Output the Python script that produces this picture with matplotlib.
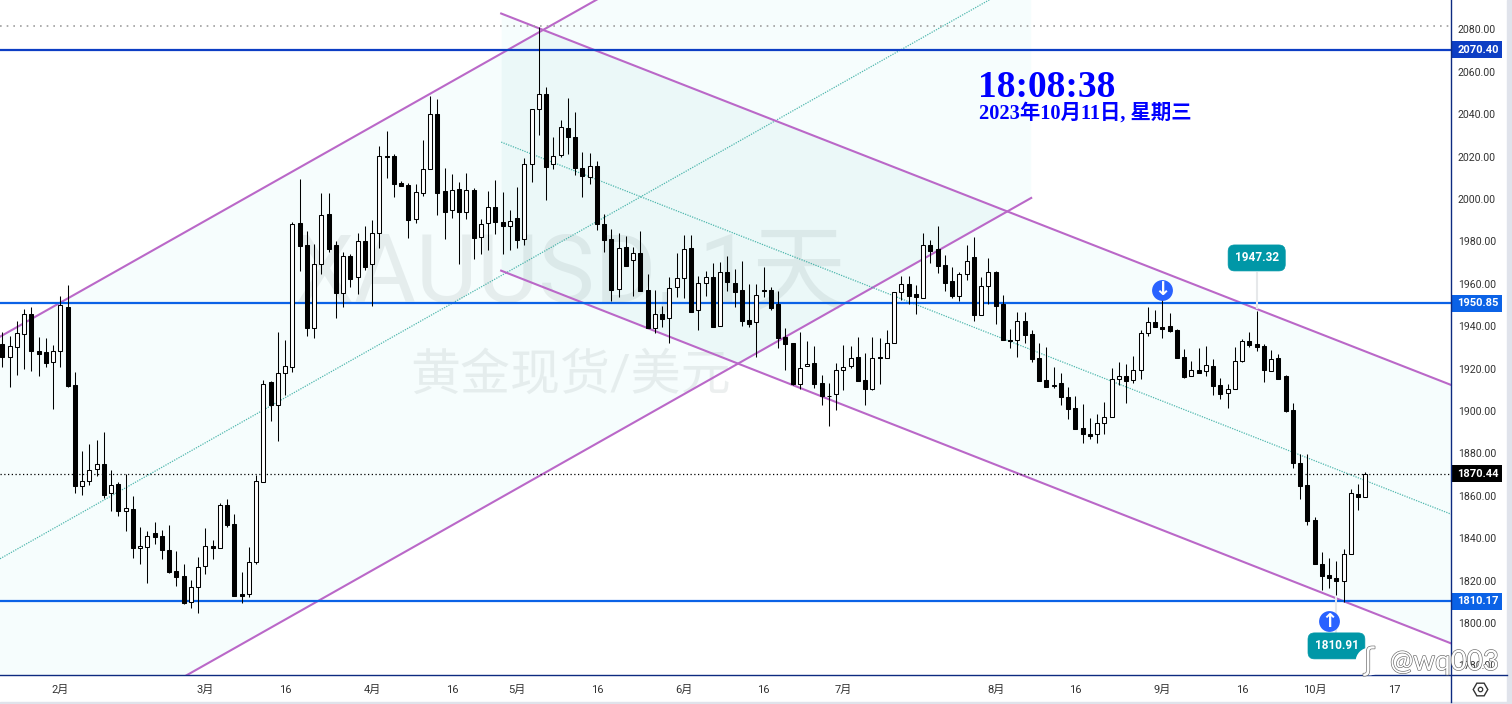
import matplotlib
matplotlib.use("Agg")
import numpy as np
import matplotlib.pyplot as plt
import matplotlib.patheffects as pe
from matplotlib.lines import Line2D
from matplotlib.patches import Rectangle

plt.rcParams['font.family'] = ['Roboto', 'Noto Sans CJK SC', 'DejaVu Sans']

# daily candles
opens = [1931.6, 1925.6, 1930.0, 1936.2, 1945.6, 1928.1, 1927.7, 1923.0, 1928.1, 1948.9,
         1912.1, 1864.8, 1866.8, 1872.5, 1874.9, 1861.2, 1865.4, 1852.7, 1853.6, 1835.2,
         1835.7, 1842.3, 1840.9, 1834.3, 1824.4, 1822.0, 1809.8, 1816.8, 1826.7, 1836.2,
         1835.2, 1855.5, 1846.6, 1813.5, 1813.5, 1829.0, 1866.7, 1913.5, 1903.0, 1917.8,
         1920.6, 1988.5, 1978.1, 1939.3, 1969.2, 1992.8, 1978.1, 1955.5, 1972.9, 1963.0,
         1980.0, 1969.2, 1983.8, 2020.1, 2020.1, 2007.4, 2006.4, 1990.4, 2002.7, 2014.0,
         2039.9, 2003.6, 1994.6, 2004.5, 1993.7, 2004.1, 1981.9, 1988.5, 1996.0, 1989.0,
         1987.4, 1990.9, 1981.3, 2016.3, 2042.3, 2049.3, 2016.3, 2020.6, 2033.3, 2029.1,
         2014.4, 2010.2, 2015.4, 1988.0, 1980.9, 1957.4, 1977.2, 1971.0, 1974.4, 1956.9,
         1939.3, 1945.6, 1943.7, 1958.3, 1962.6, 1976.7, 1947.5, 1960.5, 1963.0, 1939.9,
         1965.4, 1960.2, 1956.9, 1942.8, 1941.8, 1956.9, 1956.9, 1950.3, 1934.9, 1931.9,
         1912.9, 1921.1, 1922.5, 1913.0, 1907.3, 1907.9, 1919.2, 1921.1, 1925.3, 1914.5,
         1910.5, 1925.3, 1924.8, 1931.9, 1956.0, 1959.7, 1955.0, 1953.1, 1978.1, 1976.3,
         1968.7, 1961.2, 1954.4, 1964.5, 1972.5, 1945.4, 1958.8, 1965.4, 1950.5, 1933.3,
         1933.3, 1942.3, 1936.2, 1924.9, 1914.5, 1911.7, 1913.0, 1906.5, 1901.3, 1891.8,
         1889.0, 1889.0, 1894.2, 1897.0, 1915.0, 1916.4, 1914.5, 1919.2, 1936.6, 1941.8,
         1939.5, 1940.0, 1938.0, 1925.3, 1916.4, 1919.2, 1918.7, 1921.1, 1912.1, 1908.4,
         1910.2, 1923.4, 1932.9, 1931.5, 1930.5, 1918.7, 1924.9, 1916.4, 1900.4, 1875.4,
         1865.0, 1848.5, 1827.7, 1822.5, 1821.1, 1820.0, 1832.5, 1860.8, 1859.3]
closes = [1925.6, 1930.5, 1936.6, 1945.6, 1928.5, 1927.0, 1922.8, 1928.1, 1950.0, 1911.9,
          1864.8, 1866.8, 1872.0, 1874.9, 1860.5, 1865.0, 1853.0, 1854.1, 1835.6, 1836.2,
          1841.2, 1840.7, 1834.6, 1824.2, 1821.9, 1809.6, 1816.8, 1826.6, 1836.2, 1835.2,
          1855.5, 1846.4, 1812.9, 1812.9, 1829.0, 1866.8, 1912.7, 1903.0, 1917.9, 1921.1,
          1988.0, 1978.0, 1939.3, 1969.2, 1992.3, 1976.6, 1955.8, 1972.9, 1962.4, 1980.0,
          1968.0, 1983.8, 2020.1, 2019.8, 2007.2, 2006.3, 1990.2, 2003.1, 2014.0, 2039.9,
          2003.0, 1994.0, 2004.4, 1994.0, 2004.1, 1981.7, 1988.3, 1996.4, 1989.3, 1987.4,
          1989.4, 1980.8, 2016.3, 2042.3, 2049.3, 2015.2, 2020.1, 2033.8, 2029.1, 2014.4,
          2010.7, 2015.4, 1988.0, 1980.8, 1957.2, 1976.7, 1968.5, 1974.4, 1956.8, 1939.3,
          1945.6, 1943.5, 1957.9, 1962.6, 1976.2, 1946.9, 1960.5, 1963.0, 1939.8, 1965.4,
          1960.7, 1956.3, 1942.6, 1941.2, 1954.6, 1956.8, 1948.7, 1934.6, 1931.8, 1912.6,
          1920.1, 1922.0, 1912.9, 1907.2, 1907.2, 1919.2, 1920.6, 1924.8, 1914.3, 1910.5,
          1924.8, 1924.8, 1931.9, 1956.0, 1959.7, 1954.4, 1953.9, 1978.1, 1975.6, 1968.5,
          1960.5, 1954.4, 1964.5, 1970.9, 1945.4, 1958.8, 1965.4, 1949.7, 1933.3, 1933.2,
          1942.3, 1936.0, 1924.4, 1914.3, 1911.5, 1912.4, 1906.8, 1901.1, 1891.7, 1889.3,
          1888.4, 1894.2, 1897.0, 1915.0, 1916.4, 1914.3, 1919.2, 1936.6, 1941.8, 1939.5,
          1938.8, 1937.9, 1925.2, 1915.9, 1919.2, 1917.8, 1921.6, 1911.7, 1908.2, 1910.2,
          1923.4, 1932.9, 1931.0, 1930.4, 1919.2, 1924.4, 1915.3, 1900.2, 1875.4, 1864.4,
          1847.9, 1827.6, 1822.4, 1821.1, 1820.0, 1832.5, 1861.2, 1859.3, 1870.4]
highs = [1937.1, 1935.4, 1942.4, 1948.0, 1948.9, 1934.7, 1934.3, 1931.0, 1954.1, 1959.3,
         1918.2, 1881.0, 1884.3, 1886.2, 1889.9, 1872.0, 1866.4, 1870.1, 1859.8, 1845.1,
         1843.3, 1847.5, 1843.7, 1846.1, 1833.8, 1827.7, 1820.1, 1831.0, 1844.7, 1839.0,
         1856.5, 1858.3, 1851.3, 1823.9, 1835.7, 1870.0, 1914.6, 1914.1, 1937.1, 1933.3,
         1989.0, 2009.4, 1984.7, 1978.8, 2002.8, 2002.8, 1980.0, 1974.8, 1973.9, 1983.8,
         1987.1, 1989.9, 2024.8, 2031.9, 2021.0, 2008.3, 2007.4, 2006.9, 2027.6, 2048.4,
         2047.0, 2014.4, 2011.6, 2007.8, 2012.1, 2005.0, 1990.4, 2003.6, 2008.8, 2003.1,
         1994.6, 2005.5, 2019.2, 2042.3, 2080.9, 2052.6, 2029.1, 2037.1, 2047.5, 2040.9,
         2022.0, 2021.5, 2017.8, 1992.8, 1985.7, 1983.8, 1982.4, 1977.2, 1984.7, 1964.4,
         1956.9, 1949.4, 1963.0, 1974.4, 1982.8, 1982.8, 1963.5, 1965.9, 1969.6, 1970.1,
         1972.9, 1966.8, 1970.6, 1959.7, 1959.7, 1967.8, 1958.3, 1956.4, 1939.2, 1932.1,
         1937.1, 1933.0, 1930.5, 1916.8, 1913.0, 1922.5, 1931.0, 1930.5, 1934.9, 1927.2,
         1934.8, 1934.4, 1938.0, 1956.0, 1963.8, 1963.5, 1959.3, 1983.8, 1980.5, 1987.1,
         1973.4, 1967.8, 1965.4, 1978.1, 1981.9, 1963.0, 1972.0, 1965.9, 1954.6, 1938.5,
         1946.5, 1946.6, 1938.1, 1931.9, 1930.0, 1920.6, 1917.8, 1911.2, 1906.9, 1903.2,
         1896.6, 1898.5, 1904.1, 1920.1, 1923.0, 1922.0, 1925.8, 1938.1, 1948.9, 1947.5,
         1952.7, 1946.1, 1938.5, 1929.1, 1923.4, 1929.6, 1930.5, 1924.4, 1915.4, 1912.6,
         1930.0, 1933.8, 1937.1, 1947.3, 1931.5, 1928.6, 1926.8, 1916.9, 1903.7, 1879.6,
         1879.6, 1849.9, 1833.4, 1830.6, 1829.2, 1834.8, 1863.1, 1865.5, 1871.1]
lows = [1920.9, 1911.5, 1917.1, 1920.0, 1919.0, 1916.7, 1920.9, 1901.1, 1920.9, 1911.5,
        1861.5, 1860.5, 1865.3, 1869.5, 1859.1, 1853.0, 1850.6, 1843.6, 1830.8, 1828.0,
        1819.0, 1837.4, 1830.4, 1823.8, 1817.6, 1809.1, 1807.3, 1804.9, 1823.3, 1830.4,
        1835.2, 1845.5, 1812.9, 1809.6, 1812.4, 1828.0, 1866.7, 1895.4, 1886.0, 1907.5,
        1918.5, 1966.2, 1935.5, 1934.6, 1964.8, 1975.1, 1944.0, 1949.2, 1958.6, 1955.3,
        1966.6, 1949.7, 1977.0, 2010.0, 2001.1, 2006.3, 1981.7, 1988.8, 2001.6, 2014.0,
        1992.6, 1981.3, 1991.2, 1969.5, 1990.7, 1971.8, 1974.2, 1976.1, 1983.6, 1974.2,
        1976.1, 1977.0, 1978.4, 2007.8, 2030.2, 1999.7, 2014.3, 2019.6, 2021.4, 2011.1,
        2001.1, 2007.2, 1985.5, 1975.1, 1952.0, 1953.9, 1968.5, 1954.4, 1956.8, 1939.0,
        1936.9, 1939.8, 1932.2, 1953.9, 1953.5, 1946.9, 1938.4, 1954.4, 1939.8, 1939.9,
        1956.8, 1949.2, 1940.2, 1939.8, 1925.3, 1953.6, 1947.8, 1929.9, 1919.5, 1912.1,
        1910.5, 1921.1, 1911.0, 1903.0, 1893.1, 1900.6, 1910.0, 1920.1, 1914.3, 1903.0,
        1909.8, 1912.9, 1924.8, 1931.9, 1952.4, 1950.6, 1945.9, 1953.1, 1970.0, 1965.2,
        1956.8, 1953.5, 1952.0, 1962.0, 1942.6, 1945.4, 1950.6, 1941.2, 1933.3, 1929.9,
        1925.6, 1931.9, 1923.0, 1914.3, 1911.5, 1911.0, 1903.0, 1896.4, 1891.7, 1885.1,
        1887.0, 1885.1, 1889.3, 1897.0, 1912.1, 1903.9, 1913.1, 1915.0, 1935.2, 1939.5,
        1934.6, 1937.1, 1925.2, 1915.4, 1916.4, 1917.8, 1916.7, 1907.7, 1905.8, 1901.3,
        1910.2, 1923.0, 1930.0, 1928.2, 1913.9, 1918.7, 1915.3, 1899.3, 1873.0, 1858.4,
        1846.4, 1827.6, 1815.8, 1816.7, 1813.1, 1810.1, 1832.5, 1853.5, 1859.3]

# axis labels
price_ticks = [2080, 2060, 2040, 2020, 2000, 1980, 1960, 1940, 1920, 1900,
               1880, 1860, 1840, 1820, 1800, 1780]
time_ticks = [8, 28, 39, 51, 62, 71, 82, 94, 105, 116, 137, 148, 160, 171, 181, 192]
time_labels = ['2月', '3月', '16', '4月', '16', '5月', '16', '6月', '16', '7月',
               '8月', '16', '9月', '16', '10月', '17']

# horizontal levels and their tag colours
levels = [2070.40, 1950.85, 1810.17]
level_colors = ['#0d3ec4', '#0b62e6', '#0b62e6']
last_price = 1870.44
top_dotted = 2081.6

# channel going up (left end, right end)
up_x = [-0.32, 141.9]
up_upper = [1935.05, 2209.8]
up_lower = [1725.6, 2000.5]
up_mid = [1830.3, 2105.1]

# channel going down
down_x = [68.8, 199.8]
down_upper = [2087.5, 1912.3]
down_lower = [1966.2, 1790.4]
down_mid = [2026.85, 1851.35]

PURPLE = '#ba68c8'
TEAL = '#26a69a'
TINT = (0.0, 0.78, 0.80)
NAVY = '#0d2a80'


def draw_channel(ax, x, upper, lower, mid):
    ax.fill_between(x, lower, upper, color=TINT, alpha=0.035, lw=0, zorder=1)
    ax.plot(x, upper, color=PURPLE, lw=1.5, zorder=3)
    ax.plot(x, lower, color=PURPLE, lw=1.5, zorder=3)
    ax.plot(x, mid, color=TEAL, lw=0.9, ls=(0, (1, 1)), alpha=0.8, zorder=3)


def shade_overlap(ax):
    # where both channels cover the pane the original goes a bit greyer
    x = np.linspace(down_x[0], up_x[1], 300)
    top = np.minimum(np.interp(x, up_x, up_upper), np.interp(x, down_x, down_upper))
    bottom = np.maximum(np.interp(x, up_x, up_lower), np.interp(x, down_x, down_lower))
    ax.fill_between(x, bottom, top, where=top > bottom, color='#707070', alpha=0.015, lw=0, zorder=1)


def draw_candles(ax):
    idx = np.arange(len(opens))
    o = np.array(opens)
    c = np.array(closes)
    ax.vlines(idx, lows, highs, color='black', lw=0.75, zorder=5)
    colors = ['white' if up else 'black' for up in c > o]
    ax.bar(idx, np.abs(c - o), bottom=np.minimum(o, c), width=0.56, color=colors,
           edgecolor='black', linewidth=0.75, zorder=6)


def price_tag(ax, price, label, color):
    trans = ax.get_yaxis_transform()
    ax.add_patch(Rectangle((1.0, price - 4.0), 51 / 1451, 8.0, transform=trans, fc=color, ec='none',
                           zorder=11, clip_on=False))
    ax.text(1.0185, price, label, transform=trans, color='white', fontsize=8, fontweight='bold',
            ha='center', va='center', zorder=12, clip_on=False)


def callout(ax, x, y, label, line_from, line_to):
    ax.plot([x, x], [line_from, line_to], color='#e6e8ea', lw=1.5, zorder=4)
    ax.text(x, y, label, color='white', fontsize=8.5, fontweight='bold', ha='center', va='center',
            zorder=9, bbox=dict(boxstyle='round,pad=0.55', fc='#0097a7', ec='#0097a7', lw=0.5))


def arrow_badge(ax, x, y, glyph):
    ax.plot([x], [y], marker='o', ms=15, color='#2962ff', mec='none', zorder=8)
    ax.text(x, y, glyph, color='white', fontsize=14, fontweight='bold', family='DejaVu Sans',
            ha='center', va='center', zorder=9)


if __name__ == "__main__":
    fig = plt.figure(figsize=(15.12, 7.04), dpi=100, facecolor='white')
    ax = fig.add_axes([0, 1 - 675 / 704, 1451 / 1512, 675 / 704])
    ax.set_xlim(-0.32, 199.8)
    ax.set_ylim(1775.47, 2093.87)
    for side in ax.spines:
        ax.spines[side].set_visible(False)

    ax.yaxis.tick_right()
    ax.set_yticks(price_ticks, [f'{p:.2f}' for p in price_ticks])
    ax.set_xticks(time_ticks, time_labels)
    ax.tick_params(axis='y', length=0, pad=5, labelsize=7.6, labelcolor='#333333')
    ax.tick_params(axis='x', length=0, pad=7, labelsize=8, labelcolor='#333333')

    # watermark of the symbol
    ax.text(78.4, 1964.0, 'XAUUSD, 1天', fontsize=68, color='#7f8f92', alpha=0.14,
            ha='center', va='center', zorder=2)
    ax.text(78.4, 1916.5, '黄金现货/美元', fontsize=36, color='#7f8f92', alpha=0.14,
            ha='center', va='center', zorder=2)

    draw_channel(ax, up_x, up_upper, up_lower, up_mid)
    draw_channel(ax, down_x, down_upper, down_lower, down_mid)
    shade_overlap(ax)

    for level, color in zip(levels, level_colors):
        ax.axhline(level, color=color, lw=1.6, zorder=4)
        price_tag(ax, level, f'{level:.2f}', color)
    ax.axhline(top_dotted, color='#9e9e9e', lw=1.2, ls=(0, (1, 3)), zorder=4)
    ax.axhline(last_price, color='black', lw=0.9, ls=(0, (1, 2)), zorder=4)
    price_tag(ax, last_price, f'{last_price:.2f}', 'black')

    draw_candles(ax)

    callout(ax, 173, 1972.2, '1947.32', 1948.5, 1965)
    callout(ax, 184, 1789.2, '1810.91', 1812, 1795)
    arrow_badge(ax, 160, 1957.1, '↓')
    arrow_badge(ax, 183, 1800.9, '↑')

    # clock
    ax.text(134.6, 2048.1, '18:08:38', color='#0000ff', fontsize=27, fontweight='bold',
            family=['Liberation Serif', 'Noto Sans CJK SC'], zorder=7)
    ax.text(134.7, 2037.8, '2023年10月11日, 星期三', color='#0000ff', fontsize=14.7, fontweight='bold',
            family=['Liberation Serif', 'Noto Sans CJK SC'], zorder=7)

    # frame of the price and time scales
    fig.add_artist(Line2D([1451 / 1512, 1451 / 1512], [2 / 704, 1], color=NAVY, lw=1))
    fig.add_artist(Line2D([0, 1507 / 1512], [1 - 675 / 704, 1 - 675 / 704], color=NAVY, lw=1))
    fig.add_artist(Rectangle((1507 / 1512, 0), 5 / 1512, 1, color='#e0e3eb', transform=fig.transFigure))
    fig.add_artist(Rectangle((0, 0), 1, 2 / 704, color='#e0e3eb', transform=fig.transFigure))

    # settings icon
    fig.add_artist(Line2D([1480 / 1512], [1 - 689 / 704], marker='H', ms=10.5, mfc='white',
                          mec='#333333', mew=1, ls='none'))
    fig.add_artist(Line2D([1480 / 1512], [1 - 689 / 704], marker='o', ms=3.2, mfc='white',
                          mec='#333333', mew=0.9, ls='none'))

    # image host stamp
    fig.add_artist(Line2D([1369 / 1512], [1 - 661 / 704], marker='o', ms=20, mfc='white',
                          mec='none', ls='none'))
    stamp = [pe.withStroke(linewidth=0.9, foreground='#666666')]
    fig.text(1369 / 1512, 1 - 661 / 704, 'ʃ', fontsize=22, color='white', ha='center', va='center',
             family='DejaVu Sans', path_effects=stamp)
    fig.text(1390 / 1512, 1 - 670 / 704, '@wq003', fontsize=20, color='white', family='Lato',
             path_effects=stamp)

    fig.savefig('out.png', dpi=100)
